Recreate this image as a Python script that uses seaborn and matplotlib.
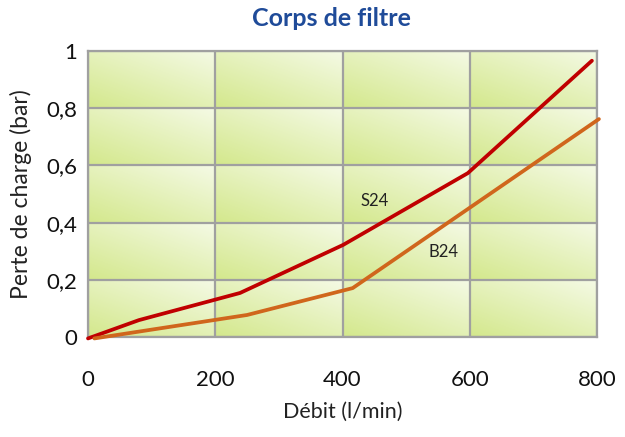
import numpy as np
import pandas as pd
import seaborn as sns
import matplotlib.pyplot as plt
from matplotlib.ticker import FuncFormatter

# Débit (l/min) / perte de charge (bar)
s24_debit = [0, 80, 239, 401, 597, 792]
s24_perte = [-0.005, 0.059, 0.154, 0.322, 0.573, 0.966]
b24_debit = [10, 250, 416, 803]
b24_perte = [-0.005, 0.077, 0.171, 0.762]

x_ticks = [0, 200, 400, 600, 800]
y_ticks = [0, 0.2, 0.4, 0.6, 0.8, 1.0]

sns.set_style("white")
plt.rcParams["font.family"] = ["Lato", "DejaVu Sans"]

df = pd.concat([
    pd.DataFrame({"debit": s24_debit, "perte": s24_perte, "serie": "S24"}),
    pd.DataFrame({"debit": b24_debit, "perte": b24_perte, "serie": "B24"}),
])

fig = plt.figure(figsize=(6.25, 4.37), dpi=100)
ax = fig.add_axes([88 / 625, 1 - 337 / 437, (597 - 88) / 625, (337 - 51) / 437])

# fond en dégradé, une case par cellule de grille
dark = np.array([0.83, 0.91, 0.55])
light = np.array([0.96, 0.98, 0.90])
u, v = np.meshgrid(np.linspace(0, 1, 60), np.linspace(0, 1, 40))
t = 0.45 * u + 0.55 * v
grad = dark + t[..., None] * (light - dark)
for i in range(len(x_ticks) - 1):
    for j in range(len(y_ticks) - 1):
        ax.imshow(grad, extent=(x_ticks[i], x_ticks[i + 1], y_ticks[j], y_ticks[j + 1]),
                  origin="lower", aspect="auto", interpolation="bilinear", zorder=0)

sns.lineplot(data=df, x="debit", y="perte", hue="serie",
             palette={"S24": "#c00000", "B24": "#d0661c"},
             linewidth=2.7, sort=False, legend=False, ax=ax, zorder=3)
for line in ax.lines:
    line.set_clip_on(False)

ax.set_xlim(0, 800)
ax.set_ylim(0, 1)
ax.set_xticks(x_ticks)
ax.set_yticks(y_ticks)
ax.yaxis.set_major_formatter(FuncFormatter(lambda v, p: f"{v:g}".replace(".", ",")))
ax.grid(True, color="#a0a0a0", linewidth=1.6, zorder=1)
ax.set_axisbelow(False)
for sp in ax.spines.values():
    sp.set_color("#a0a0a0")
    sp.set_linewidth(1.6)
    sp.set_visible(True)

ax.tick_params(axis="x", length=0, pad=24, labelsize=16, colors="#111111")
ax.tick_params(axis="y", length=0, pad=8, labelsize=16, colors="#111111")
ax.set_xlabel("Débit (l/min)", fontsize=15.5, color="#222222", labelpad=8)
ax.set_ylabel("Perte de charge (bar)", fontsize=16.5, color="#222222", labelpad=10)

ax.text(450, 0.475, "S24", fontsize=12, ha="center", va="center", color="#222222")
ax.text(558, 0.297, "B24", fontsize=12, ha="center", va="center", color="#222222")

fig.text(0.53, 1 - 19 / 437, "Corps de filtre", fontsize=18, fontweight="bold",
         color="#1f4b99", ha="center", va="center")

fig.savefig("out.png", dpi=100)
